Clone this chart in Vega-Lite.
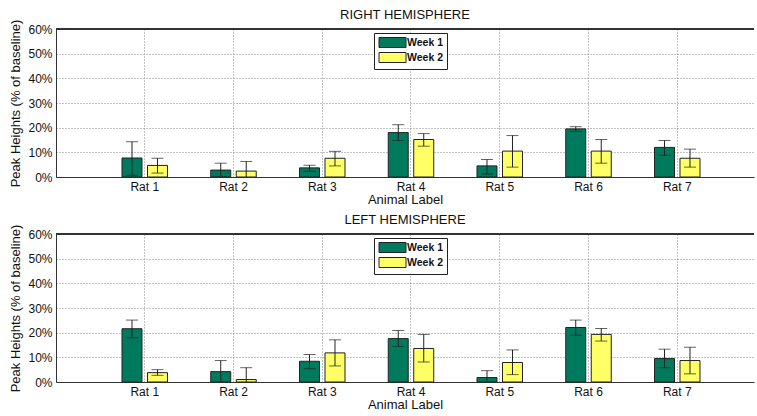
{
  "$schema": "https://vega.github.io/schema/vega-lite/v6.json",
  "padding": {"left": 9, "top": 9, "right": 0, "bottom": 0},
  "background": "white",
  "datasets": {
    "right": [
      {"rat": "Rat 1", "week": "Week 1", "value": 7.7, "lo": 0.7, "hi": 14.3},
      {"rat": "Rat 1", "week": "Week 2", "value": 4.7, "lo": 1.6, "hi": 7.6},
      {"rat": "Rat 2", "week": "Week 1", "value": 2.8, "lo": 0.0, "hi": 5.6},
      {"rat": "Rat 2", "week": "Week 2", "value": 2.4, "lo": -1.5, "hi": 6.3},
      {"rat": "Rat 3", "week": "Week 1", "value": 3.7, "lo": 2.3, "hi": 4.8},
      {"rat": "Rat 3", "week": "Week 2", "value": 7.6, "lo": 4.5, "hi": 10.4},
      {"rat": "Rat 4", "week": "Week 1", "value": 18.0, "lo": 14.8, "hi": 21.2},
      {"rat": "Rat 4", "week": "Week 2", "value": 15.2, "lo": 12.5, "hi": 17.6},
      {"rat": "Rat 5", "week": "Week 1", "value": 4.5, "lo": 1.2, "hi": 7.1},
      {"rat": "Rat 5", "week": "Week 2", "value": 10.5, "lo": 4.0, "hi": 16.8},
      {"rat": "Rat 6", "week": "Week 1", "value": 19.5, "lo": 18.5, "hi": 20.4},
      {"rat": "Rat 6", "week": "Week 2", "value": 10.5, "lo": 5.6, "hi": 15.2},
      {"rat": "Rat 7", "week": "Week 1", "value": 12.0, "lo": 8.8, "hi": 14.8},
      {"rat": "Rat 7", "week": "Week 2", "value": 7.6, "lo": 4.0, "hi": 11.3}
    ],
    "left": [
      {"rat": "Rat 1", "week": "Week 1", "value": 21.6, "lo": 17.9, "hi": 25.1},
      {"rat": "Rat 1", "week": "Week 2", "value": 3.8, "lo": 2.7, "hi": 5.0},
      {"rat": "Rat 2", "week": "Week 1", "value": 4.2, "lo": -0.3, "hi": 8.7},
      {"rat": "Rat 2", "week": "Week 2", "value": 1.0, "lo": -3.9, "hi": 5.8},
      {"rat": "Rat 3", "week": "Week 1", "value": 8.4, "lo": 5.4, "hi": 11.1},
      {"rat": "Rat 3", "week": "Week 2", "value": 11.8, "lo": 6.5, "hi": 17.1},
      {"rat": "Rat 4", "week": "Week 1", "value": 17.6, "lo": 14.4, "hi": 20.9},
      {"rat": "Rat 4", "week": "Week 2", "value": 13.6, "lo": 8.1, "hi": 19.3},
      {"rat": "Rat 5", "week": "Week 1", "value": 1.8, "lo": -1.0, "hi": 4.6},
      {"rat": "Rat 5", "week": "Week 2", "value": 7.9, "lo": 3.0, "hi": 13.0},
      {"rat": "Rat 6", "week": "Week 1", "value": 22.1, "lo": 19.0, "hi": 25.1},
      {"rat": "Rat 6", "week": "Week 2", "value": 19.3, "lo": 16.6, "hi": 21.7},
      {"rat": "Rat 7", "week": "Week 1", "value": 9.5, "lo": 5.8, "hi": 13.3},
      {"rat": "Rat 7", "week": "Week 2", "value": 8.7, "lo": 3.3, "hi": 14.1}
    ]
  },
  "vconcat": [
    {
      "title": {"text": "RIGHT HEMISPHERE"},
      "data": {"name": "right"},
      "width": 698,
      "height": 148,
      "layer": [
        {
          "mark": {"type": "rule", "color": "#333", "strokeWidth": 1},
          "encoding": {"y": {"datum": 60, "type": "quantitative",
                  "axis": {"title": "Peak Heights (% of baseline)", "values": [0, 10, 20, 30, 40, 50, 60],
                           "labelOverlap": false, "labelExpr": "datum.value + '%'"}}}
        },
        {
          "mark": {"type": "bar", "stroke": "#222", "strokeWidth": 1},
          "encoding": {
            "x": {"field": "rat", "type": "nominal", "sort": null,
                  "scale": {"paddingInner": 0, "paddingOuter": 0.4324, "align": 0.578},
                  "axis": {"title": "Animal Label"}},
            "xOffset": {"field": "week", "type": "nominal",
                        "scale": {"paddingInner": 0.216, "paddingOuter": 0.848}},
            "y": {"field": "value", "type": "quantitative",
                  "scale": {"domain": [0, 60], "nice": false},
                  "axis": {"title": "Peak Heights (% of baseline)", "values": [0, 10, 20, 30, 40, 50, 60],
                           "labelOverlap": false, "labelExpr": "datum.value + '%'"}},
            "color": {"field": "week", "type": "nominal",
                      "scale": {"domain": ["Week 1", "Week 2"], "range": ["#007a5c", "#ffff66"]},
                      "legend": {"title": null, "orient": "none", "legendX": 318, "legendY": 4}}
          }
        },
        {
          "mark": {"type": "rule", "color": "#222", "strokeWidth": 1, "clip": true},
          "encoding": {
            "x": {"field": "rat", "type": "nominal", "sort": null, "axis": {"title": "Animal Label"}},
            "xOffset": {"field": "week", "type": "nominal"},
            "y": {"field": "lo", "type": "quantitative",
                  "axis": {"title": "Peak Heights (% of baseline)", "values": [0, 10, 20, 30, 40, 50, 60],
                           "labelOverlap": false, "labelExpr": "datum.value + '%'"}},
            "y2": {"field": "hi"}
          }
        },
        {
          "mark": {"type": "tick", "color": "#222", "thickness": 1, "size": 12, "clip": true},
          "encoding": {
            "x": {"field": "rat", "type": "nominal", "sort": null, "axis": {"title": "Animal Label"}},
            "xOffset": {"field": "week", "type": "nominal"},
            "y": {"field": "lo", "type": "quantitative",
                  "axis": {"title": "Peak Heights (% of baseline)", "values": [0, 10, 20, 30, 40, 50, 60],
                           "labelOverlap": false, "labelExpr": "datum.value + '%'"}}
          }
        },
        {
          "mark": {"type": "tick", "color": "#222", "thickness": 1, "size": 12},
          "encoding": {
            "x": {"field": "rat", "type": "nominal", "sort": null, "axis": {"title": "Animal Label"}},
            "xOffset": {"field": "week", "type": "nominal"},
            "y": {"field": "hi", "type": "quantitative",
                  "axis": {"title": "Peak Heights (% of baseline)", "values": [0, 10, 20, 30, 40, 50, 60],
                           "labelOverlap": false, "labelExpr": "datum.value + '%'"}}
          }
        }
      ]
    },
    {
      "title": {"text": "LEFT HEMISPHERE"},
      "data": {"name": "left"},
      "width": 698,
      "height": 148,
      "layer": [
        {
          "mark": {"type": "rule", "color": "#333", "strokeWidth": 1},
          "encoding": {"y": {"datum": 60, "type": "quantitative",
                  "axis": {"title": "Peak Heights (% of baseline)", "values": [0, 10, 20, 30, 40, 50, 60],
                           "labelOverlap": false, "labelExpr": "datum.value + '%'"}}}
        },
        {
          "mark": {"type": "bar", "stroke": "#222", "strokeWidth": 1},
          "encoding": {
            "x": {"field": "rat", "type": "nominal", "sort": null,
                  "scale": {"paddingInner": 0, "paddingOuter": 0.4324, "align": 0.578},
                  "axis": {"title": "Animal Label"}},
            "xOffset": {"field": "week", "type": "nominal",
                        "scale": {"paddingInner": 0.216, "paddingOuter": 0.848}},
            "y": {"field": "value", "type": "quantitative",
                  "scale": {"domain": [0, 60], "nice": false},
                  "axis": {"title": "Peak Heights (% of baseline)", "values": [0, 10, 20, 30, 40, 50, 60],
                           "labelOverlap": false, "labelExpr": "datum.value + '%'"}},
            "color": {"field": "week", "type": "nominal",
                      "scale": {"domain": ["Week 1", "Week 2"], "range": ["#007a5c", "#ffff66"]},
                      "legend": {"title": null, "orient": "none", "legendX": 318, "legendY": 4}}
          }
        },
        {
          "mark": {"type": "rule", "color": "#222", "strokeWidth": 1, "clip": true},
          "encoding": {
            "x": {"field": "rat", "type": "nominal", "sort": null, "axis": {"title": "Animal Label"}},
            "xOffset": {"field": "week", "type": "nominal"},
            "y": {"field": "lo", "type": "quantitative",
                  "axis": {"title": "Peak Heights (% of baseline)", "values": [0, 10, 20, 30, 40, 50, 60],
                           "labelOverlap": false, "labelExpr": "datum.value + '%'"}},
            "y2": {"field": "hi"}
          }
        },
        {
          "mark": {"type": "tick", "color": "#222", "thickness": 1, "size": 12, "clip": true},
          "encoding": {
            "x": {"field": "rat", "type": "nominal", "sort": null, "axis": {"title": "Animal Label"}},
            "xOffset": {"field": "week", "type": "nominal"},
            "y": {"field": "lo", "type": "quantitative",
                  "axis": {"title": "Peak Heights (% of baseline)", "values": [0, 10, 20, 30, 40, 50, 60],
                           "labelOverlap": false, "labelExpr": "datum.value + '%'"}}
          }
        },
        {
          "mark": {"type": "tick", "color": "#222", "thickness": 1, "size": 12},
          "encoding": {
            "x": {"field": "rat", "type": "nominal", "sort": null, "axis": {"title": "Animal Label"}},
            "xOffset": {"field": "week", "type": "nominal"},
            "y": {"field": "hi", "type": "quantitative",
                  "axis": {"title": "Peak Heights (% of baseline)", "values": [0, 10, 20, 30, 40, 50, 60],
                           "labelOverlap": false, "labelExpr": "datum.value + '%'"}}
          }
        }
      ]
    }
  ],
  "spacing": 8,
  "resolve": {"legend": {"color": "independent"}, "scale": {"color": "independent"}},
  "config": {
    "font": "Liberation Sans",
    "view": {"stroke": null},
    "title": {"fontSize": 13, "fontWeight": "normal", "color": "#111", "offset": -3, "frame": "group", "anchor": "middle"},
    "axis": {
      "labelFont": "Liberation Sans", "labelFontSize": 12, "labelColor": "#111",
      "titleFont": "Liberation Sans", "titleFontSize": 13, "titleFontWeight": "normal", "titleColor": "#111",
      "domainColor": "#333", "tickSize": 0, "grid": true, "gridColor": "#888", "gridDash": [1, 2],
      "gridOpacity": 1, "gridWidth": 1
    },
    "axisX": {"labelAngle": 0, "labelPadding": 4, "titlePadding": 1, "bandPosition": 0.5},
    "axisY": {"labelPadding": 4, "titlePadding": 5},
    "legend": {
      "strokeColor": "#222", "fillColor": "white", "padding": 4,
      "symbolType": "M-2.7,-1H2.7V1H-2.7Z", "symbolSize": 100,
      "symbolStrokeColor": "#222", "symbolStrokeWidth": 1, "symbolOpacity": 1,
      "symbolOffset": 9, "labelOffset": 9,
      "labelFont": "Liberation Sans", "labelFontSize": 10.5, "labelFontWeight": "bold", "labelColor": "#111",
      "rowPadding": 0
    }
  }
}
